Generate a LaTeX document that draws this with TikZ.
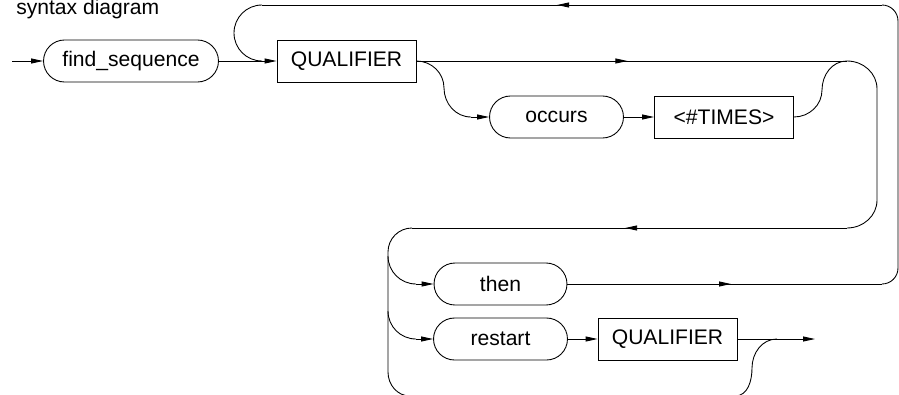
\documentclass[tikz,border=0pt]{standalone}
\usepackage{fontspec}
\setmainfont{Liberation Sans}
\usetikzlibrary{arrows.meta, decorations.markings, shapes.misc}

\tikzset{
  term/.style={draw, rounded rectangle, minimum height=0.84cm, inner xsep=2pt},
  nonterm/.style={draw, rectangle, minimum height=0.84cm, minimum width=2.78cm},
  tip/.style={-{Triangle[length=2.4mm,width=1mm]}},
  midtip/.style={postaction={decorate},
    decoration={markings, mark=at position #1 with {\arrow{Triangle[length=2.4mm,width=1mm]}}}},
  midtip/.default=.5,
}

\begin{document}
\begin{tikzpicture}[x=0.02cm, y=0.02cm, line width=0.5pt,
  font=\fontsize{12}{14}\selectfont]
\useasboundingbox (0,0) rectangle (899,-395);
\clip (0,0) rectangle (899,-395);

\node[anchor=base west] (title) at (10,-15) {syntax diagram};

% nodes
\node[term, minimum width=3.64cm] (fs) at (131,-61) {find\_sequence};
\node[nonterm] (q1) at (346.5,-61) {QUALIFIER};
\node[term, minimum width=2.82cm] (oc) at (556.5,-117) {occurs};
\node[nonterm] (tm) at (724,-117) {<\#TIMES>};
\node[term, minimum width=2.8cm] (th) at (500.5,-284) {then};
\node[term, minimum width=2.82cm] (rs) at (500.5,-339) {restart};
\node[nonterm] (q2) at (667.5,-339) {QUALIFIER};

% helper points
\coordinate (in) at (12,-61);
\coordinate (out) at (815,-339);
\coordinate (tR1) at (882,-284);
\coordinate (tT1) at (882,-5);
\coordinate (tT2) at (262,-5);
\coordinate (q1in) at (262,-61);
\coordinate (iR1) at (847,-61);
\coordinate (iB1) at (847,-228);
\coordinate (iL1) at (412,-228);
\coordinate (ocin) at (471,-117);
\coordinate (thin) at (416,-284);
\coordinate (rsin) at (416,-339);
\coordinate (bp1) at (410,-396);
\coordinate (bp2) at (735,-396);
\coordinate (q2out) at (777,-339);

% main line
\draw[tip] (in) -- (fs.west);
\draw[tip] (fs.east) -- (q1.west);
\draw[midtip=.49] (q1.east) -- (iR1);
\draw (q1.east) to[out=0,in=90] (444,-88) to[out=-90,in=180] (ocin);
\draw[tip] (ocin) -- (oc.west);
\draw[tip] (oc.east) -- (tm.west);
\draw (tm.east) to[out=0,in=-90] (822,-90) to[out=90,in=180] (iR1);

% inner loop back
\draw (iR1) to[out=0,in=90] (877,-89) -- (877,-200) to[out=-90,in=0] (iB1);
\draw[midtip=.51] (iB1) -- (iL1);
\draw (iL1) to[out=180,in=90] (388,-252) -- (388,-372) to[out=-90,in=180] (bp1);
\draw (388,-256) to[out=-90,in=180] (thin);
\draw (388,-311) to[out=-90,in=180] (rsin);
\draw[tip] (thin) -- (th.west);
\draw[tip] (rsin) -- (rs.west);
\draw[tip] (rs.east) -- (q2.west);
\draw (bp1) -- (bp2) to[out=0,in=-90] (752,-368) to[out=90,in=180] (q2out);
\draw[tip] (q2.east) -- (out);

% outer loop back
\draw[midtip=.52] (th.east) -- (tR1);
\draw (tR1) to[out=0,in=-90] (898,-268) -- (898,-21) to[out=90,in=0] (tT1);
\draw[midtip=.524] (tT1) -- (tT2);
\draw (tT2) to[out=180,in=90] (234,-33) to[out=-90,in=180] (q1in);
\end{tikzpicture}
\end{document}
